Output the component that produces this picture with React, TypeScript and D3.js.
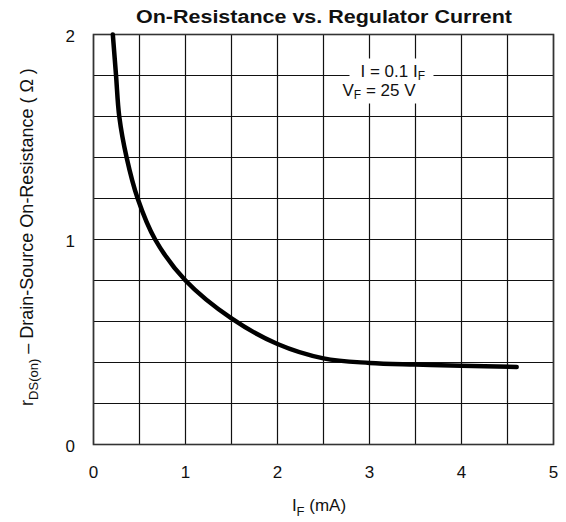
import { useEffect, useRef } from 'react'
import * as d3 from 'd3'

const CURRENT_MA = [0.21, 0.245, 0.28, 0.36, 0.48, 0.67, 1.0, 1.5, 2.0, 2.5, 3.0, 3.5, 4.0, 4.6]
const RESISTANCE = [2.0, 1.8, 1.6, 1.4, 1.2, 1.0, 0.8, 0.615, 0.49, 0.42, 0.398, 0.39, 0.384, 0.378]
const X_TICKS = [0, 1, 2, 3, 4, 5]
const Y_TICKS = [0, 1, 2]

const FONT = 'Liberation Sans, Arial, sans-serif'

export default function App() {
  const svgRef = useRef<SVGSVGElement>(null)

  useEffect(() => {
    if (!svgRef.current) return
    const svg = d3.select(svgRef.current)
    svg.selectAll('*').remove()

    const margin = { top: 34.5, right: 12.5, bottom: 77.5, left: 93.5 }
    const W = 566
    const H = 522
    const width = W - margin.left - margin.right
    const height = H - margin.top - margin.bottom

    const x = d3.scaleLinear().domain([0, 5]).range([0, width])
    const y = d3.scaleLinear().domain([0, 2]).range([height, 0])

    const g = svg.append('g').attr('transform', `translate(${margin.left},${margin.top})`)

    // grid: 0.5 mA columns, 0.2 ohm rows
    const gx = d3.range(0, 5.001, 0.5)
    const gy = d3.range(0, 2.001, 0.2)
    g.selectAll('.vgrid')
      .data(gx)
      .join('line')
      .attr('x1', (d) => x(d)).attr('x2', (d) => x(d))
      .attr('y1', 0).attr('y2', height)
      .attr('stroke', '#111').attr('stroke-width', 1.2)
    g.selectAll('.hgrid')
      .data(gy)
      .join('line')
      .attr('x1', 0).attr('x2', width)
      .attr('y1', (d) => y(d)).attr('y2', (d) => y(d))
      .attr('stroke', '#111').attr('stroke-width', 1.2)

    // frame
    g.append('rect')
      .attr('width', width).attr('height', height)
      .attr('fill', 'none').attr('stroke', '#333').attr('stroke-width', 1.6)

    // annotation box
    g.append('rect')
      .attr('x', 256).attr('y', 24)
      .attr('width', 84).attr('height', 45)
      .attr('fill', '#fff')

    const note = g.append('g').attr('font-family', FONT).attr('font-size', 17).attr('fill', '#111')
    const l1 = note.append('text').attr('x', 267).attr('y', 42)
    l1.append('tspan').text('I = 0.1 I')
    l1.append('tspan').attr('dy', 3).attr('font-size', 12).text('F')
    const l2 = note.append('text').attr('x', 249).attr('y', 61)
    l2.append('tspan').text('V')
    l2.append('tspan').attr('dy', 3).attr('font-size', 12).text('F')
    l2.append('tspan').attr('dy', -3).text(' = 25 V')

    // curve
    const pts: [number, number][] = CURRENT_MA.map((c, i) => [c, RESISTANCE[i]])
    const line = d3.line<[number, number]>()
      .x((d) => x(d[0]))
      .y((d) => y(d[1]))
      .curve(d3.curveCatmullRom.alpha(0.5))
    g.append('path')
      .datum(pts)
      .attr('d', line)
      .attr('fill', 'none')
      .attr('stroke', '#000')
      .attr('stroke-width', 4.5)
      .attr('stroke-linecap', 'round')

    // tick labels
    g.selectAll('.xt')
      .data(X_TICKS)
      .join('text')
      .attr('x', (d) => x(d))
      .attr('y', height + 33)
      .attr('text-anchor', 'middle')
      .attr('font-family', FONT).attr('font-size', 17).attr('fill', '#111')
      .text((d) => d)
    g.selectAll('.yt')
      .data(Y_TICKS)
      .join('text')
      .attr('x', -18.5)
      .attr('y', (d) => y(d) + 2)
      .attr('dy', '0.35em')
      .attr('text-anchor', 'end')
      .attr('font-family', FONT).attr('font-size', 17).attr('fill', '#111')
      .text((d) => d)

    // x label
    const xl = svg.append('text')
      .attr('x', 319).attr('y', 511)
      .attr('text-anchor', 'middle')
      .attr('font-family', FONT).attr('font-size', 17).attr('fill', '#111')
    xl.append('tspan').text('I')
    xl.append('tspan').attr('dy', 5).attr('font-size', 13).text('F')
    xl.append('tspan').attr('dy', -5).text(' (mA)')

    // y label
    const yl = svg.append('text')
      .attr('transform', 'translate(33,237) rotate(-90)')
      .attr('text-anchor', 'middle')
      .attr('font-family', FONT).attr('font-size', 18).attr('fill', '#111')
    yl.append('tspan').text('r')
    yl.append('tspan').attr('dy', 5).attr('font-size', 13).text('DS(on)')
    yl.append('tspan').attr('dy', -5).text(' – Drain-Source On-Resistance ( Ω )')

    // title
    svg.append('text')
      .attr('x', 324).attr('y', 23)
      .attr('text-anchor', 'middle')
      .attr('font-family', FONT).attr('font-size', 18).attr('font-weight', 700)
      .attr('textLength', 376).attr('lengthAdjust', 'spacingAndGlyphs')
      .attr('fill', '#111')
      .text('On-Resistance vs. Regulator Current')
  }, [])

  return (
    <svg
      ref={svgRef}
      width={566}
      height={522}
      viewBox="0 0 566 522"
      style={{ position: 'absolute', left: 0, top: 0, background: '#fff' }}
    />
  )
}
